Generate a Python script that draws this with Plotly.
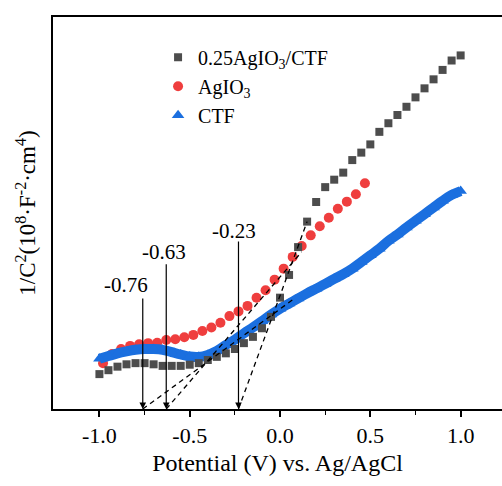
import plotly.graph_objects as go

# ---------------- data ----------------
# 0.25AgIO3/CTF (grey squares)
comp_x = [-1.00, -0.95, -0.90, -0.85, -0.80, -0.75, -0.70, -0.65, -0.60, -0.55,
          -0.50, -0.45, -0.40, -0.35, -0.30, -0.25, -0.20, -0.15, -0.10, -0.05,
          0.00, 0.05, 0.10, 0.15, 0.20, 0.25, 0.30, 0.35, 0.40, 0.45,
          0.50, 0.55, 0.60, 0.65, 0.70, 0.75, 0.80, 0.85, 0.90, 0.95, 1.00]
comp_y = [0.89, 0.99, 1.08, 1.14, 1.17, 1.17, 1.14, 1.10, 1.10, 1.10,
          1.13, 1.17, 1.25, 1.33, 1.42, 1.53, 1.68, 1.84, 2.06, 2.35,
          2.84, 3.42, 4.13, 4.78, 5.28, 5.66, 5.85, 6.03, 6.35, 6.54,
          6.75, 7.07, 7.29, 7.50, 7.71, 7.95, 8.18, 8.41, 8.65, 8.89, 9.02]

# AgIO3 (red circles)
agio_x = [-0.98, -0.93, -0.88, -0.83, -0.78, -0.73, -0.68, -0.63, -0.58, -0.53,
          -0.48, -0.43, -0.38, -0.33, -0.28, -0.23, -0.18, -0.13, -0.08, -0.03,
          0.02, 0.07, 0.12, 0.17, 0.22, 0.27, 0.32, 0.37, 0.42, 0.47]
agio_y = [1.17, 1.40, 1.53, 1.61, 1.65, 1.68, 1.69, 1.76, 1.78, 1.83,
          1.89, 1.99, 2.08, 2.20, 2.37, 2.49, 2.63, 2.84, 3.03, 3.30,
          3.58, 3.88, 4.16, 4.43, 4.66, 4.88, 5.11, 5.29, 5.48, 5.76]

# CTF (blue triangles)
ctf_x = comp_x
ctf_y = [1.28, 1.35, 1.42, 1.47, 1.51, 1.53, 1.53, 1.51, 1.45, 1.39,
         1.34, 1.33, 1.38, 1.48, 1.63, 1.77, 1.93, 2.08, 2.24, 2.41,
         2.56, 2.69, 2.82, 2.95, 3.07, 3.19, 3.32, 3.44, 3.58, 3.75,
         3.92, 4.09, 4.29, 4.45, 4.63, 4.80, 4.97, 5.14, 5.31, 5.46, 5.56]

# tangent (dashed) lines: start and end points
tan_x0 = [-0.23, -0.63, -0.76]
tan_y0 = [0.0, 0.0, 0.0]
tan_x1 = [0.15, 0.12, 0.08]
tan_y1 = [4.78, 4.01, 2.82]

# flat-band potential markers
fb_values = [-0.76, -0.63, -0.23]
fb_labels = ["-0.76", "-0.63", "-0.23"]
fb_arrow_top = [2.86, 3.73, 4.31]
fb_label_x = [-0.853, -0.642, -0.257]
fb_label_y = [3.16, 4.01, 4.55]

x_tickvals = [-1.0, -0.5, 0.0, 0.5, 1.0]
x_ticktext = ["-1.0", "-0.5", "0.0", "0.5", "1.0"]
x_minor = [-0.75, -0.25, 0.25, 0.75]

FONT = "Liberation Serif, Times New Roman, serif"
GREY = "#4d4d4d"
RED = "#ef3e3e"
BLUE = "#1b6fdf"

fig = go.Figure()

fig.add_trace(go.Scatter(x=agio_x, y=agio_y, mode="markers", name="AgIO<sub>3</sub>",
                         legendgroup="b", legendrank=2,
                         marker=dict(symbol="circle", size=10, color=RED)))
fig.add_trace(go.Scatter(x=ctf_x, y=ctf_y, mode="lines", showlegend=False,
                         legendgroup="c", hoverinfo="skip",
                         line=dict(color=BLUE, width=10, shape="spline")))
fig.add_trace(go.Scatter(x=ctf_x, y=ctf_y, mode="markers", name="CTF",
                         legendgroup="c", legendrank=3,
                         marker=dict(symbol="triangle-up", size=11, color=BLUE)))
fig.add_trace(go.Scatter(x=comp_x, y=comp_y, mode="markers", name="0.25AgIO<sub>3</sub>/CTF",
                         legendgroup="a", legendrank=1,
                         marker=dict(symbol="square", size=8, color=GREY)))

for i in range(len(tan_x0)):
    fig.add_shape(type="line", x0=tan_x0[i], y0=tan_y0[i], x1=tan_x1[i], y1=tan_y1[i],
                  xref="x", yref="y", line=dict(color="black", width=1.3, dash="5px,4px"))

for i in range(len(fb_values)):
    fig.add_annotation(x=fb_values[i], y=0, ax=fb_values[i], ay=fb_arrow_top[i],
                       xref="x", yref="y", axref="x", ayref="y", text="",
                       showarrow=True, arrowhead=2, arrowsize=1.1, arrowwidth=1.2,
                       arrowcolor="black", standoff=0, startstandoff=0)
    fig.add_annotation(x=fb_label_x[i], y=fb_label_y[i], xref="x", yref="y",
                       text=fb_labels[i], showarrow=False,
                       font=dict(family=FONT, size=21, color="black"))

fig.update_layout(
    width=502, height=486,
    margin=dict(l=53, r=0, t=17, b=77),
    paper_bgcolor="white", plot_bgcolor="white",
    font=dict(family=FONT, color="black"),
    showlegend=True,
    legend=dict(x=0.234, y=0.947, xanchor="left", yanchor="top",
                font=dict(family=FONT, size=20, color="black"),
                bgcolor="rgba(0,0,0,0)", tracegroupgap=0, traceorder="grouped"),
    xaxis=dict(range=[-1.257, 1.229], tickvals=x_tickvals, ticktext=x_ticktext,
               showline=True, linecolor="black", linewidth=1.5, mirror=True,
               ticks="outside", ticklen=6, tickwidth=1.5, tickcolor="black",
               minor=dict(tickvals=x_minor, ticks="outside", ticklen=4, tickwidth=1.2,
                          tickcolor="black", showgrid=False),
               tickfont=dict(family=FONT, size=22, color="black"),
               showgrid=False, zeroline=False,
               title=dict(text="Potential (V) vs. Ag/AgCl", standoff=7,
                          font=dict(family=FONT, size=24, color="black"))),
    yaxis=dict(range=[0, 10], showline=True, linecolor="black", linewidth=1.5,
               mirror=False, ticks="", showticklabels=False, showgrid=False,
               zeroline=False,
               title=dict(text="1/C<sup>2</sup>(10<sup>8</sup>·F<sup>-2</sup>·cm<sup>4</sup>)",
                          standoff=9,
                          font=dict(family=FONT, size=23, color="black"))),
)

fig.write_html("out.html")
